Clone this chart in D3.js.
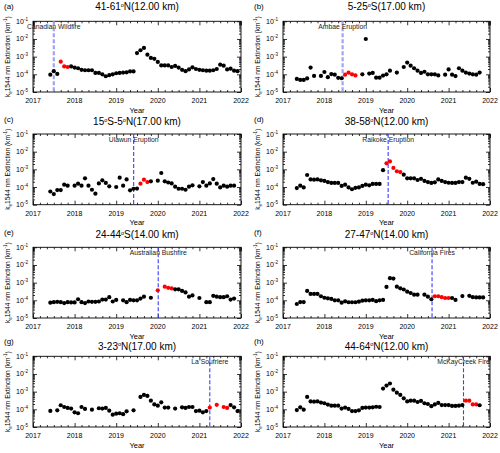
<!DOCTYPE html>
<html><head><meta charset="utf-8">
<script src="https://cdn.jsdelivr.net/npm/d3@7"></script>
<style>body{margin:0;background:#fff}svg{display:block;font-family:"Liberation Sans",Arial,Helvetica,sans-serif}</style>
</head><body><svg id="c" width="500" height="453"></svg>
<script>
// monthly grid: index 0 = 2017-05 ... index 55 = 2021-12
const monthIndex = d3.range(56);
const panelLetters = ["(a)","(b)","(c)","(d)","(e)","(f)","(g)","(h)"];
const titles = ["41-61°N(12.00 km)","5-25°S(17.00 km)","15°S-5°N(17.00 km)","38-58°N(12.00 km)",
                "24-44°S(14.00 km)","27-47°N(14.00 km)","3-23°N(17.00 km)","44-64°N(12.00 km)"];
const eventNames = ["Canadian Wildfire","Ambae Eruption","Ulawun Eruption","Raikoke Eruption",
                    "Australian Bushfire","California Fires","La Soufriere","McKayCreek Fire"];
const eventDates = [2017.50, 2018.44, 2019.42, 2019.54, 2020.01, 2020.60, 2021.25, 2021.36];
const yearTicks = [2017,2018,2019,2020,2021,2022];
const decadeTicks = [1e-5,1e-4,1e-3,1e-2,1e-1];

const valsA = [null,9.5e-5,1.5e-4,1.05e-4,5.2e-4,2.8e-4,2.6e-4,2.8e-4,2.4e-4,2.2e-4,1.8e-4,1.7e-4,1.7e-4,1.7e-4,1.2e-4,1.2e-4,1.0e-4,7.8e-5,9e-5,1.0e-4,1.15e-4,1.2e-4,1.25e-4,1.3e-4,1.45e-4,1.45e-4,1.6e-3,2.3e-3,3.1e-3,1.3e-3,8.5e-4,7.5e-4,5e-4,3.2e-4,3.2e-4,3.2e-4,2.6e-4,3e-4,2.4e-4,1.8e-4,1.5e-4,1.9e-4,2.5e-4,2e-4,1.8e-4,1.7e-4,1.6e-4,1.6e-4,1.7e-4,2e-4,3.5e-4,3.1e-4,1.9e-4,2.1e-4,1.6e-4,1.5e-4];
const valsB = [5.5e-5,4.8e-5,4.8e-5,5.9e-5,2.4e-4,8.1e-5,null,8.1e-5,1.35e-4,6.9e-5,1.03e-4,9.5e-5,6.3e-5,6e-5,9.5e-5,1.25e-4,1e-4,8.7e-5,null,1e-4,1e-2,1.1e-4,1.2e-4,6.5e-5,6.5e-5,8.5e-5,1e-4,1.6e-4,null,1.25e-4,null,2.6e-4,4.6e-4,3.1e-4,2.2e-4,1.6e-4,1.2e-4,1.4e-4,1e-4,1e-4,1e-4,8.7e-5,null,9.5e-5,1.9e-4,9.5e-5,8e-5,2.2e-4,1.6e-4,1.25e-4,1.1e-4,1e-4,9.5e-5,1.25e-4,null,null];
const valsC = [null,5.6e-5,4e-5,6.7e-5,6.7e-5,1.35e-4,1.2e-4,null,1.2e-4,1.55e-4,1.2e-4,3.1e-4,1.2e-4,7e-5,4.2e-5,1.6e-4,2.4e-4,1.7e-4,1.1e-4,null,1e-4,3.4e-4,1.2e-4,2.7e-4,6.5e-5,8e-5,8.2e-5,1.55e-4,2.6e-4,1.9e-4,2.1e-4,null,2.3e-4,6.2e-4,2.1e-4,1.8e-4,1.6e-4,1.05e-4,8e-5,8e-5,7e-5,1.05e-4,1.25e-4,null,1.1e-4,1.9e-4,1.2e-4,1.6e-4,2.8e-4,1.55e-4,9.5e-5,1.2e-4,1.05e-4,1.2e-4,1.2e-4,null];
const valsD = [8.7e-5,1.2e-4,9.5e-5,4.8e-4,2.7e-4,2.6e-4,2.7e-4,2.4e-4,2.2e-4,1.9e-4,1.7e-4,1.7e-4,1.7e-4,1.15e-4,1.35e-4,9.5e-5,7.5e-5,9e-5,9.5e-5,1.15e-4,1.35e-4,1.25e-4,1.5e-4,1.5e-4,1.5e-4,9e-4,2.2e-3,2.8e-3,1.2e-3,7.8e-4,7e-4,5e-4,3.1e-4,3.1e-4,3.1e-4,2.5e-4,2.9e-4,2.2e-4,1.9e-4,1.7e-4,1.85e-4,2.7e-4,2.2e-4,1.9e-4,1.75e-4,1.7e-4,1.7e-4,1.9e-4,1.9e-4,3.4e-4,2.9e-4,1.75e-4,2e-4,1.5e-4,1.45e-4,null];
const valsE = [null,7.4e-5,7.9e-5,8.2e-5,7.9e-5,7e-5,7.9e-5,7.6e-5,7.6e-5,1.15e-4,7.9e-5,7e-5,8.6e-5,8.2e-5,8.2e-5,8.6e-5,1.1e-4,1.1e-4,1.5e-4,8.6e-5,1.05e-4,null,1e-4,7.9e-5,1.05e-4,1e-4,1e-4,1.25e-4,1.6e-4,null,1.4e-4,null,3.7e-4,null,5.9e-4,5.1e-4,4.7e-4,4.2e-4,4.2e-4,3.4e-4,2.8e-4,1.6e-4,1.9e-4,null,1.35e-4,null,7.9e-5,7.9e-5,1.8e-4,1.6e-4,1.5e-4,1.5e-4,1.7e-4,1.1e-4,1.25e-4,null];
const valsF = [6.2e-5,8e-5,8e-5,3.4e-4,2.3e-4,2.3e-4,2.3e-4,1.7e-4,1.4e-4,1.3e-4,1.2e-4,1e-4,1e-4,7.4e-5,8.8e-5,7.8e-5,7.8e-5,7.8e-5,8.4e-5,9.5e-5,1e-4,1e-4,1.05e-4,9e-5,1e-4,1.05e-4,5.7e-4,1.8e-3,1.7e-3,5.9e-4,4.8e-4,4.1e-4,3.1e-4,2.6e-4,2.1e-4,2.1e-4,null,2.1e-4,1.6e-4,1.15e-4,1.7e-4,1.7e-4,1.5e-4,1.35e-4,1.35e-4,1.35e-4,1.05e-4,null,1.75e-4,null,1.8e-4,1.5e-4,1.45e-4,1.45e-4,1.45e-4,null];
const valsG = [null,8.1e-5,null,8.8e-5,1.7e-4,1.35e-4,1.2e-4,1.1e-4,6.8e-5,6e-5,1.35e-4,1.05e-4,null,9.5e-5,null,1.15e-4,1.1e-4,1.2e-4,8.4e-5,5e-5,5.7e-5,6e-5,5.3e-5,7.7e-5,null,8.8e-5,null,5e-4,6.5e-4,5.7e-4,3.1e-4,1.9e-4,1.6e-4,2.5e-4,1.25e-4,1.25e-4,null,1.1e-4,null,1.3e-4,1.2e-4,1.35e-4,1.35e-4,8e-5,8.4e-5,6.8e-5,8e-5,1.25e-4,null,1.8e-4,null,1.35e-4,1.2e-4,1.75e-4,1.3e-4,8e-5];
const valsH = [9.1e-5,1.3e-4,9.5e-5,5e-4,2.8e-4,2.7e-4,2.8e-4,2.4e-4,2.2e-4,1.85e-4,1.6e-4,1.6e-4,1.6e-4,1.1e-4,1.25e-4,1.05e-4,8e-5,8e-5,8.8e-5,1.2e-4,1.25e-4,1.25e-4,1.3e-4,1.4e-4,1.35e-4,1.5e-3,2.2e-3,2.9e-3,1.3e-3,8.8e-4,6.5e-4,4.2e-4,2.8e-4,3.1e-4,3.1e-4,2.6e-4,3e-4,2.2e-4,2e-4,1.5e-4,1.9e-4,2.3e-4,1.75e-4,1.75e-4,1.75e-4,1.55e-4,1.55e-4,1.6e-4,1.75e-4,3.1e-4,3.1e-4,1.9e-4,1.9e-4,1.7e-4,null,null];

// months (indices) highlighted in red after each event
const redA = [4,5,6];
const redB = [14,15,16,17];
const redC = [27,28,29];
const redD = [26,27,28,29,30];
const redE = [32,34,35,36];
const redF = [40,41,42,43,44];
const redG = [47,49,51,52];
const redH = [49,50,51,52];

const allVals = [valsA,valsB,valsC,valsD,valsE,valsF,valsG,valsH];
const allRed = [redA,redB,redC,redD,redE,redF,redG,redH];

// layout (not data)
const colX = [[33,241],[283,490]];
const rowTop = [21.3,134,247.3,356.3];
const titleOffset = [11,9,9,6.5];
const plotH = 70.7;
const lineStyle = i => i < 2 ? {c:"#a2a2f4", w:2.2} : {c:"#3c3cff", w:1.1};

const svg = d3.select("#c");
const monthToYear = k => 2017 + (4 + k) / 12;

function supText(sel, base, sup, supSize) {
  sel.append("tspan").text(base);
  sel.append("tspan").attr("dy", -3).attr("font-size", supSize).text(sup);
}

allVals.forEach((vals, i) => {
  const col = i % 2, row = Math.floor(i / 2);
  const [x0, x1] = colX[col];
  const top = rowTop[row], bot = top + plotH;
  const x = d3.scaleLinear().domain([2017, 2022]).range([x0, x1]);
  const y = d3.scaleLog().domain([1e-5, 1e-1]).range([bot, top]);
  const g = svg.append("g");

  // minor x ticks every 2 months
  const minorX = d3.range(2017, 2022, 1/6).filter(v => Math.abs(v - Math.round(v)) > 1e-6);
  const minorY = [];
  [1e-5,1e-4,1e-3,1e-2].forEach(d => { for (let m = 2; m <= 9; m++) minorY.push(d*m); });

  const ax = (axis, tr) => { const a = g.append("g").attr("transform", tr).call(axis);
    a.select(".domain").remove(); a.selectAll("line").attr("stroke","#000").attr("stroke-width",0.8); a.selectAll("text").remove(); return a; };
  ax(d3.axisBottom(x).tickValues(yearTicks).tickSizeInner(-4).tickSizeOuter(0), `translate(0,${bot})`);
  ax(d3.axisBottom(x).tickValues(minorX).tickSizeInner(-2).tickSizeOuter(0), `translate(0,${bot})`);
  ax(d3.axisTop(x).tickValues(yearTicks).tickSizeInner(-4).tickSizeOuter(0), `translate(0,${top})`);
  ax(d3.axisTop(x).tickValues(minorX).tickSizeInner(-2).tickSizeOuter(0), `translate(0,${top})`);
  ax(d3.axisLeft(y).tickValues(decadeTicks).tickSizeInner(-4).tickSizeOuter(0), `translate(${x0},0)`);
  ax(d3.axisLeft(y).tickValues(minorY).tickSizeInner(-2).tickSizeOuter(0), `translate(${x0},0)`);
  ax(d3.axisRight(y).tickValues(decadeTicks).tickSizeInner(-4).tickSizeOuter(0), `translate(${x1},0)`);
  ax(d3.axisRight(y).tickValues(minorY).tickSizeInner(-2).tickSizeOuter(0), `translate(${x1},0)`);

  g.append("rect").attr("x", x0).attr("y", top).attr("width", x1 - x0).attr("height", plotH)
    .attr("fill", "none").attr("stroke", "#000").attr("stroke-width", 0.9);

  // x tick labels
  g.selectAll(".xl").data(yearTicks).join("text")
    .attr("x", d => x(d)).attr("y", bot + 11).attr("text-anchor", "middle")
    .attr("font-size", 7).text(d => d);
  // y tick labels
  decadeTicks.forEach(d => {
    const t = g.append("text").attr("x", x0 - 11).attr("y", y(d) + 2.5)
      .attr("text-anchor", "middle").attr("font-size", 7);
    supText(t, "10", String(Math.round(Math.log10(d))), 4.5);
  });
  // axis titles
  g.append("text").attr("x", (x0 + x1) / 2).attr("y", bot + 20.5).attr("text-anchor", "middle")
    .attr("font-size", 7.5).text("Year");
  const yl = g.append("text").attr("transform", `translate(${x0 - 23},${top + plotH / 2}) rotate(-90)`)
    .attr("text-anchor", "middle").attr("font-size", 6.6);
  yl.append("tspan").text("k");
  yl.append("tspan").attr("dy", 1.8).attr("font-size", 4.5).text("e");
  yl.append("tspan").attr("dy", -1.8).text("1544 nm Extinction (km");
  yl.append("tspan").attr("dy", -2.8).attr("font-size", 4.5).text("-1");
  yl.append("tspan").attr("dy", 2.8).text(")");

  // title with superscript degree
  const tt = g.append("text").attr("x", (x0 + x1) / 2).attr("y", top - titleOffset[row]).attr("text-anchor", "middle")
    .attr("font-size", 10);
  titles[i].split("°").forEach((part, j) => {
    if (j > 0) tt.append("tspan").attr("dy", -3.5).attr("font-size", 5.5).text("o");
    tt.append("tspan").attr("dy", j > 0 ? 3.5 : 0).text(part);
  });
  g.append("text").attr("x", col === 0 ? 4 : 254).attr("y", top - 12).attr("font-size", 8).text(panelLetters[i]);

  // event line
  const ls = lineStyle(i);
  g.append("line").attr("x1", x(eventDates[i])).attr("x2", x(eventDates[i]))
    .attr("y1", top).attr("y2", bot).attr("stroke", ls.c).attr("stroke-width", ls.w)
    .attr("stroke-dasharray", "4,2");
  g.append("text").attr("x", x(eventDates[i])).attr("y", top + 7.5).attr("text-anchor", "middle")
    .attr("font-size", 6.8).attr("fill", "#222").text(eventNames[i]);

  // points
  const red = new Set(allRed[i]);
  const pts = monthIndex.filter(k => vals[k] != null);
  g.selectAll(".pt").data(pts).join("circle")
    .attr("cx", k => x(monthToYear(k))).attr("cy", k => y(vals[k])).attr("r", 2.1)
    .attr("fill", k => red.has(k) ? "#ff0000" : "#000");
});
</script></body></html>
